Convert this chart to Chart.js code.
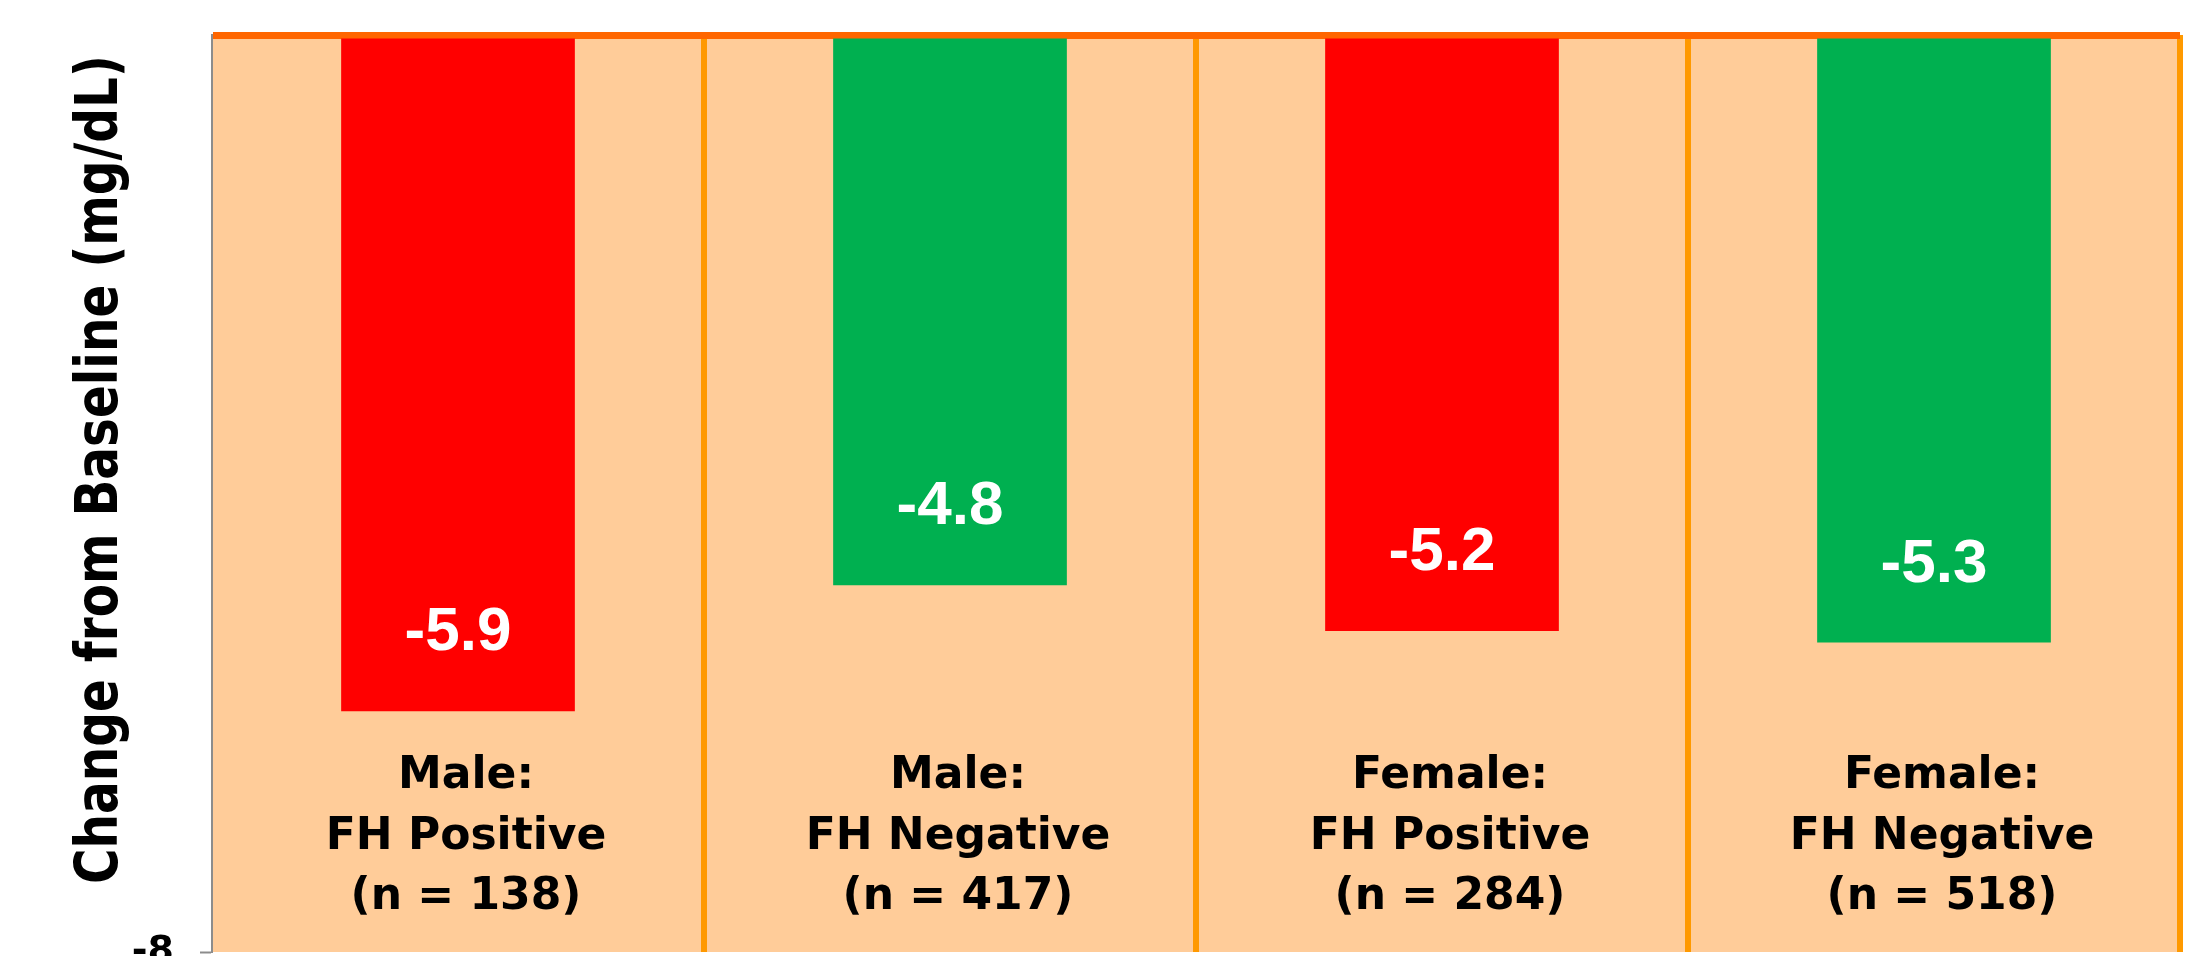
<!DOCTYPE html>
<html>
<head>
<meta charset="utf-8">
<title>Change from Baseline by sex and FH status</title>
<script src="https://cdn.jsdelivr.net/npm/chart.js@4/dist/chart.umd.min.js"></script>
<style>
  html, body { margin: 0; padding: 0; background: #fff; overflow: hidden; }
  #wrap { width: 2197px; height: 1000px; }
</style>
</head>
<body>
<div id="wrap"><canvas id="chart"></canvas></div>
<script>
// categories: sex, FH status and sample size per bar
const sexLabels = ['Male:', 'Male:', 'Female:', 'Female:'];
const fhLabels = ['FH Positive', 'FH Negative', 'FH Positive', 'FH Negative'];
const sampleSizes = [138, 417, 284, 518];

// change from baseline (mg/dL)
const changeValues = [-5.9, -4.8, -5.2, -5.3];
const barColors = ['#FF0000', '#00B050', '#FF0000', '#00B050'];

const yTitle = 'Change from Baseline (mg/dL)';
const yMin = -8;
const yMax = 0;

const PEACH = '#FFCC99';
const TEXT_FONT = '"DejaVu Sans", "Noto Sans", sans-serif';

// peach fill behind the plot
const plotFill = {
  id: 'plotFill',
  beforeDraw(chart) {
    const { ctx, chartArea: a } = chart;
    ctx.save();
    ctx.fillStyle = PEACH;
    ctx.fillRect(a.left, a.top, a.right - a.left, a.bottom - a.top);
    ctx.restore();
  }
};

// white value inside the end of each bar
const valueLabels = {
  id: 'valueLabels',
  afterDatasetsDraw(chart) {
    const { ctx } = chart;
    const meta = chart.getDatasetMeta(0);
    ctx.save();
    ctx.fillStyle = '#FFFFFF';
    ctx.font = 'bold 62px "Liberation Sans", Arial, sans-serif';
    ctx.textAlign = 'center';
    ctx.textBaseline = 'middle';
    meta.data.forEach((bar, i) => {
      ctx.fillText(changeValues[i].toFixed(1), bar.x, bar.y - 78);
    });
    ctx.restore();
  }
};

// three-line category captions inside the plot, near the bottom
const categoryCaptions = {
  id: 'categoryCaptions',
  afterDatasetsDraw(chart) {
    const { ctx, chartArea: a } = chart;
    const x = chart.scales.x;
    ctx.save();
    ctx.fillStyle = '#000000';
    ctx.font = 'bold 44px ' + TEXT_FONT;
    ctx.textAlign = 'center';
    ctx.textBaseline = 'alphabetic';
    sexLabels.forEach((sex, i) => {
      const cx = x.getPixelForValue(i) + 8;
      const lines = [sex, fhLabels[i], '(n = ' + sampleSizes[i] + ')'];
      lines.forEach((line, k) => {
        ctx.fillText(line, cx, a.bottom - 43 - 60.5 * (lines.length - 1 - k));
      });
    });
    ctx.restore();
  }
};

// rotated y axis title, squeezed like the original
const yAxisTitle = {
  id: 'yAxisTitle',
  afterDraw(chart) {
    const { ctx, chartArea: a } = chart;
    ctx.save();
    ctx.translate(102, (a.top + a.bottom) / 2 - 24);
    ctx.rotate(-Math.PI / 2);
    ctx.fillStyle = '#000000';
    ctx.font = 'bold 58px "DejaVu Sans Condensed", ' + TEXT_FONT;
    ctx.textAlign = 'center';
    ctx.textBaseline = 'middle';
    ctx.fillText(yTitle, 0, 0, 829);
    ctx.restore();
  }
};

new Chart(document.getElementById('chart'), {
  type: 'bar',
  data: {
    labels: fhLabels.map((fh, i) => sexLabels[i] + ' ' + fh),
    datasets: [{
      data: changeValues,
      backgroundColor: barColors,
      borderWidth: 0,
      categoryPercentage: 1,
      barPercentage: 0.475
    }]
  },
  options: {
    responsive: true,
    maintainAspectRatio: false,
    animation: false,
    events: [],
    layout: { padding: { top: 35, right: 17, bottom: 0, left: 0 } },
    plugins: {
      legend: { display: false },
      tooltip: { enabled: false }
    },
    scales: {
      x: {
        afterFit: s => { s.height = 48; },
        ticks: { display: false },
        grid: {
          offset: true,
          drawTicks: false,
          lineWidth: 6,
          color: c => c.index === 0 ? 'rgba(0,0,0,0)' : '#FF9900'
        },
        border: { display: false }
      },
      y: {
        min: yMin,
        max: yMax,
        z: 1,
        // fixed axis width; the tick padding must not push the plot down
        afterFit: s => { s.width = 212; s.paddingTop = 0; s.paddingBottom = 0; },
        ticks: {
          stepSize: 8,
          padding: 26,
          color: '#000000',
          font: { family: TEXT_FONT, weight: 'bold', size: 38 },
          callback: v => v === 0 ? '' : String(v)
        },
        grid: {
          color: c => c.tick && c.tick.value === 0 ? '#FF6600' : 'rgba(0,0,0,0)',
          lineWidth: c => c.tick && c.tick.value === 0 ? 7 : 1,
          tickColor: c => c.tick && c.tick.value === yMin ? '#8C8C8C' : 'rgba(0,0,0,0)',
          tickWidth: 2,
          tickLength: 12
        },
        border: { color: '#8C8C8C', width: 2 }
      }
    }
  },
  plugins: [plotFill, valueLabels, categoryCaptions, yAxisTitle]
});
</script>
</body>
</html>
